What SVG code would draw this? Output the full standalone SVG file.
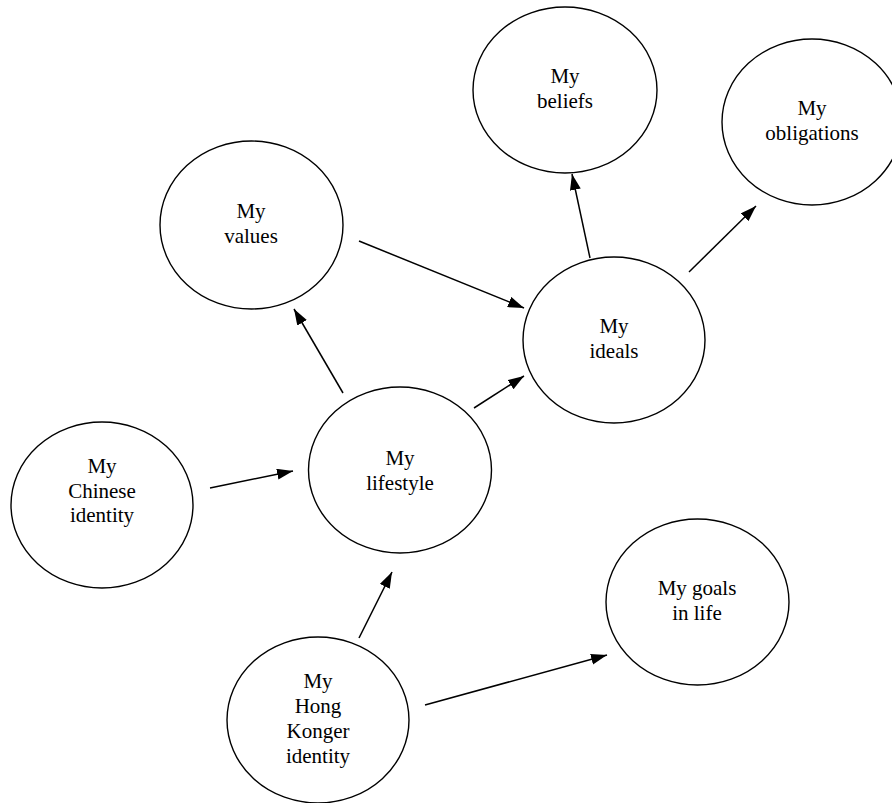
<svg xmlns="http://www.w3.org/2000/svg" width="892" height="803" viewBox="0 0 892 803">
<style>
.n{fill:#fff;stroke:#000;stroke-width:1.4}
.t{font-family:"Liberation Serif","Times New Roman",serif;font-size:21px;fill:#000;text-anchor:middle}
.c line{stroke:#000;stroke-width:1.5;marker-end:url(#ah)}
</style>
<defs>
<marker id="ah" markerUnits="userSpaceOnUse" markerWidth="17" markerHeight="12" refX="16" refY="5.5" orient="auto" viewBox="0 0 17 12">
<path d="M0,0 L16,5.5 L0,11 z" fill="#000"/>
</marker>
</defs>
<rect width="892" height="803" fill="#fff"/>
<g id="beliefs"><ellipse class="n" cx="565" cy="90" rx="92" ry="83"/><text class="t" x="565" y="83">My</text><text class="t" x="565" y="108">beliefs</text></g>
<g id="obligations"><ellipse class="n" cx="812" cy="122" rx="90" ry="83"/><text class="t" x="812" y="115">My</text><text class="t" x="812" y="140">obligations</text></g>
<g id="values"><ellipse class="n" cx="251.5" cy="225" rx="91.5" ry="84"/><text class="t" x="251" y="218">My</text><text class="t" x="251" y="243">values</text></g>
<g id="ideals"><ellipse class="n" cx="614" cy="340" rx="91" ry="83"/><text class="t" x="614" y="333">My</text><text class="t" x="614" y="358">ideals</text></g>
<g id="lifestyle"><ellipse class="n" cx="400" cy="470" rx="91.5" ry="83"/><text class="t" x="400" y="465">My</text><text class="t" x="400" y="490">lifestyle</text></g>
<g id="chinese"><ellipse class="n" cx="102" cy="505" rx="91" ry="83"/><text class="t" x="102" y="473">My</text><text class="t" x="102" y="497.5">Chinese</text><text class="t" x="102" y="522">identity</text></g>
<g id="goals"><ellipse class="n" cx="697.5" cy="602" rx="91.5" ry="83"/><text class="t" x="697" y="595">My goals</text><text class="t" x="697" y="620">in life</text></g>
<g id="hongkonger"><ellipse class="n" cx="318" cy="720" rx="91" ry="83"/><text class="t" x="318" y="688">My</text><text class="t" x="318" y="713">Hong</text><text class="t" x="318" y="738">Konger</text><text class="t" x="318" y="763">identity</text></g>
<g id="connectors" class="c">
<line x1="359" y1="241" x2="524" y2="308"/>
<line x1="343" y1="393" x2="294" y2="309"/>
<line x1="474" y1="408" x2="524" y2="376"/>
<line x1="590" y1="258" x2="572" y2="174"/>
<line x1="689" y1="272" x2="756" y2="206"/>
<line x1="210" y1="488" x2="293" y2="471"/>
<line x1="359" y1="638" x2="392" y2="572"/>
<line x1="425" y1="705" x2="607" y2="655"/>
</g>
</svg>
